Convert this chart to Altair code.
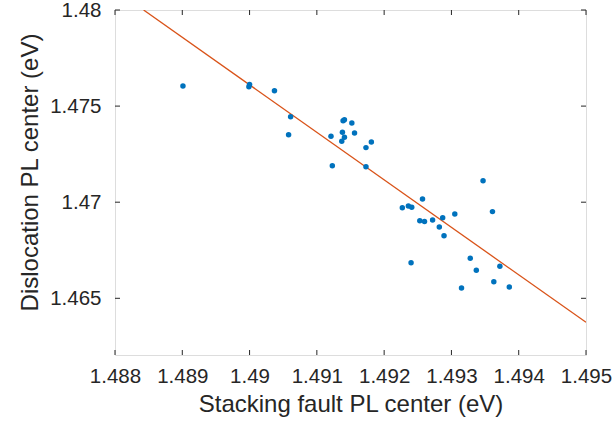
import altair as alt
import pandas as pd

# Scatter data
sf_center = [1.48901, 1.49000, 1.48999, 1.49037, 1.49061, 1.49058, 1.49121, 1.49139,
             1.49141, 1.49152, 1.49138, 1.49141, 1.49137, 1.49156, 1.49173, 1.49181,
             1.49123, 1.49173, 1.49347, 1.49257, 1.49227, 1.49236, 1.49241, 1.49253,
             1.49260, 1.49272, 1.49287, 1.49305, 1.49361, 1.49282, 1.49289, 1.49240,
             1.49328, 1.49337, 1.49372, 1.49363, 1.49386, 1.49315]
disl_center = [1.47605, 1.47613, 1.47601, 1.47580, 1.47445, 1.47351, 1.47343, 1.47424,
               1.47429, 1.47412, 1.47364, 1.47338, 1.47317, 1.47360, 1.47284, 1.47313,
               1.47190, 1.47185, 1.47112, 1.47017, 1.46971, 1.46980, 1.46974, 1.46904,
               1.46899, 1.46907, 1.46919, 1.46939, 1.46951, 1.46871, 1.46826, 1.46685,
               1.46708, 1.46646, 1.46667, 1.46586, 1.46559, 1.46554]

# Linear fit line endpoints
fit_x = [1.488425, 1.495]
fit_y = [1.48, 1.46375]

x_ticks = [1.488, 1.489, 1.490, 1.491, 1.492, 1.493, 1.494, 1.495]
y_ticks = [1.465, 1.470, 1.475, 1.480]

X_DOMAIN = [1.488, 1.495]
Y_DOMAIN = [1.46205, 1.48]

W, H = 471, 345
FONT = "Liberation Sans"
INK = "#262626"

pts = pd.DataFrame({"x": sf_center, "y": disl_center})
fit = pd.DataFrame({"x": fit_x, "y": fit_y})
xt = pd.DataFrame({"v": x_ticks})
yt = pd.DataFrame({"v": y_ticks})

xscale = alt.Scale(domain=X_DOMAIN, nice=False, zero=False)
yscale = alt.Scale(domain=Y_DOMAIN, nice=False, zero=False)

x_axis = alt.Axis(values=x_ticks, format="~g", grid=False, ticks=False, domain=False,
                  labelOverlap=False, labelFlush=False,
                  labelFont=FONT, labelFontSize=20.5, labelColor=INK, labelPadding=11,
                  title="Stacking fault PL center (eV)", titleFont=FONT, titleFontSize=24,
                  titleFontWeight="normal", titleColor=INK, titleBaseline="alphabetic",
                  titleY=56.5)
y_axis = alt.Axis(values=y_ticks, format="~g", grid=False, ticks=False, domain=False,
                  labelOverlap=False, labelFlush=False,
                  labelFont=FONT, labelFontSize=20.5, labelColor=INK, labelPadding=14,
                  title="Dislocation PL center (eV)", titleFont=FONT, titleFontSize=24,
                  titleFontWeight="normal", titleColor=INK, titleBaseline="alphabetic",
                  titleX=-78, titleY=162, titleAlign="center", titleAngle=270)

scatter = alt.Chart(pts).mark_circle(size=30, color="#0072BD", opacity=1).encode(
    x=alt.X("x:Q", scale=xscale, axis=x_axis),
    y=alt.Y("y:Q", scale=yscale, axis=y_axis),
)

line = alt.Chart(fit).mark_line(color="#D95319", strokeWidth=1.3, clip=True).encode(
    x=alt.X("x:Q", scale=xscale),
    y=alt.Y("y:Q", scale=yscale),
)

tick_style = dict(color=INK, strokeWidth=1)
xb = alt.Chart(xt).mark_rule(**tick_style).encode(
    x=alt.X("v:Q", scale=xscale), y=alt.value(H), y2=alt.value(H - 5))
xtop = alt.Chart(xt).mark_rule(**tick_style).encode(
    x=alt.X("v:Q", scale=xscale), y=alt.value(0), y2=alt.value(5))
yl = alt.Chart(yt).mark_rule(**tick_style).encode(
    y=alt.Y("v:Q", scale=yscale), x=alt.value(0), x2=alt.value(5))
yr = alt.Chart(yt).mark_rule(**tick_style).encode(
    y=alt.Y("v:Q", scale=yscale), x=alt.value(W - 5), x2=alt.value(W))

chart = alt.layer(line, scatter, xb, xtop, yl, yr).properties(
    width=W, height=H,
    autosize=alt.AutoSizeParams(type="none"),
    padding={"left": 115, "top": 10, "right": 26, "bottom": 67},
).configure_view(stroke=INK, strokeWidth=1.2).configure(background="white")

chart.save("out.html", embed_options={"renderer": "svg", "actions": False})
